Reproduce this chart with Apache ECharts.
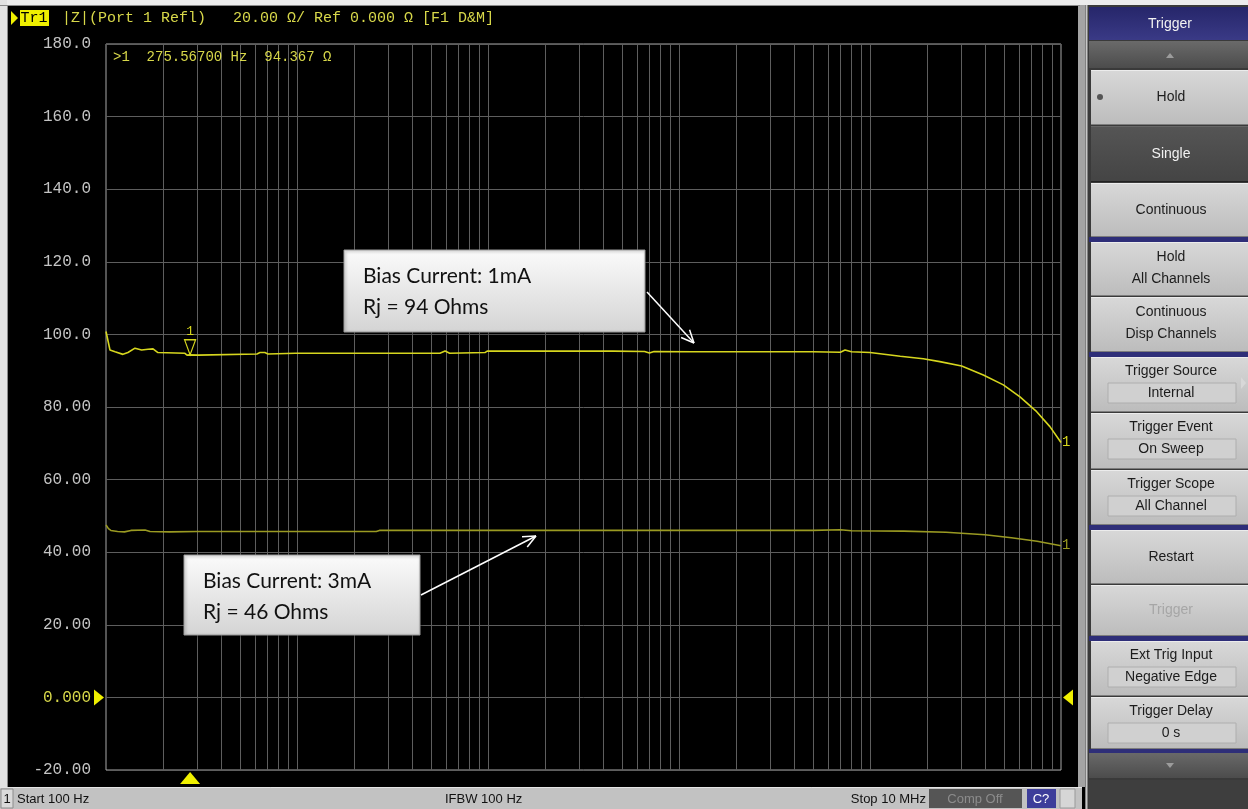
<!DOCTYPE html>
<html>
<head>
<meta charset="utf-8">
<script src="https://cdn.jsdelivr.net/npm/echarts/dist/echarts.min.js"></script>
<style>
html,body{margin:0;padding:0;background:#000;overflow:hidden}
#c{width:1248px;height:809px}
</style>
</head>
<body>
<div id="c"></div>
<script>
// |Z| sweep, 1 mA bias (frequency in Hz, impedance in ohms)
const freq1mA = [100, 104.9, 111.5, 122.7, 130.3, 141.8, 153.7, 165.9, 176.3, 187, 259, 265.5, 275.567, 303, 310, 617, 640, 679, 704, 980, 5600, 5960, 6300, 9640, 9900, 45000, 66000, 70000, 74000, 118000, 500000, 700000, 740000, 800000, 1000000, 1440000, 1900000, 2320000, 3020000, 3920000, 4990000, 6100000, 7460000, 8750000, 10000000];
const z1mA = [100.8, 95.7, 95.2, 94.5, 95.0, 96.2, 95.7, 95.9, 96.0, 95.0, 94.8, 94.3, 94.37, 94.3, 94.6, 94.6, 95.0, 95.0, 94.6, 94.8, 94.8, 95.4, 94.8, 95.0, 95.4, 95.4, 95.3, 94.9, 95.3, 95.2, 95.2, 95.1, 95.7, 95.2, 95.0, 94.0, 93.3, 92.5, 91.3, 88.8, 86.1, 82.8, 78.7, 74.6, 70.2];

// |Z| sweep, 3 mA bias
const freq3mA = [100, 103, 106, 115, 125, 135, 160, 170, 215, 300, 1000, 2600, 2700, 10000, 100000, 500000, 700000, 800000, 1500000, 2500000, 4000000, 5500000, 7500000, 10000000];
const z3mA = [47.5, 46.5, 46.0, 45.7, 45.6, 46.0, 46.1, 45.7, 45.6, 45.7, 45.7, 45.7, 46.0, 46.0, 46.0, 46.0, 46.2, 45.9, 45.8, 45.5, 44.8, 44.0, 43.0, 41.8];

// marker 1
const markerFreq = 275.567;
const markerZ = 94.367;

// sweep / scale settings
const startFreq = 100;
const stopFreq = 10000000;
const yMin = -20, yMax = 180, yStep = 20;
const refLevel = 0;

// annotations
const note1mA = ['Bias Current: 1mA', 'Rj = 94 Ohms'];
const note3mA = ['Bias Current: 3mA', 'Rj = 46 Ohms'];

// log grid: 1..9 per decade inside the sweep span
const gridFreqs = [];
for (let d = startFreq; d < stopFreq; d *= 10) {
  for (let m = 1; m <= 9; m++) {
    const f = d * m;
    if (f > startFreq && f < stopFreq) gridFreqs.push(f);
  }
}

const TRACE1 = '#d6d61e';
const TRACE2 = '#9a9a22';
const TXT_Y = '#d8d84a';
const MONO = '"Liberation Mono", "DejaVu Sans Mono", monospace';
const UI = '"Liberation Sans", Arial, sans-serif';
const CAL = 'Lato, "Open Sans", sans-serif';

const zip = (a, b) => a.map((v, i) => [v, b[i]]);

function fmtY(v) {
  if (v === 0) return '0.000';
  return Math.abs(v) >= 100 ? v.toFixed(1) : v.toFixed(2);
}

const chart = echarts.init(document.getElementById('c'), null, {renderer: 'canvas'});

const option = {
  backgroundColor: '#000',
  animation: false,
  grid: {left: 106, top: 44, width: 955, height: 726, show: true, borderColor: '#a8a8a8', borderWidth: 1, backgroundColor: 'transparent'},
  xAxis: {
    type: 'log', logBase: 10, min: startFreq, max: stopFreq,
    axisLine: {show: false}, axisTick: {show: false}, axisLabel: {show: false}, splitLine: {show: false}
  },
  yAxis: {
    type: 'value', min: yMin, max: yMax, interval: yStep,
    axisLine: {show: false}, axisTick: {show: false},
    axisLabel: {
      formatter: fmtY, margin: 15, fontFamily: MONO, fontSize: 16,
      color: (v) => (Number(v) === refLevel ? TXT_Y : '#c4c4c4')
    },
    splitLine: {lineStyle: {color: '#5e5e5e', width: 1}}
  },
  series: [
    {
      type: 'custom', z: 1, silent: true,
      data: gridFreqs.map(f => [f]),
      renderItem: (params, api) => {
        const p1 = api.coord([api.value(0), yMax]);
        const p2 = api.coord([api.value(0), yMin]);
        return {type: 'line', shape: {x1: Math.round(p1[0]) + 0.5, y1: p1[1], x2: Math.round(p2[0]) + 0.5, y2: p2[1]},
                style: {stroke: '#5e5e5e', lineWidth: 1}};
      }
    },
    {
      name: '3mA', type: 'line', z: 3, data: zip(freq3mA, z3mA), showSymbol: false, silent: true,
      lineStyle: {color: TRACE2, width: 1.6},
      endLabel: {show: true, formatter: '1', color: TRACE2, fontFamily: MONO, fontSize: 14, distance: 1}
    },
    {
      name: '1mA', type: 'line', z: 4, data: zip(freq1mA, z1mA), showSymbol: false, silent: true,
      lineStyle: {color: TRACE1, width: 1.6},
      endLabel: {show: true, formatter: '1', color: TRACE1, fontFamily: MONO, fontSize: 14, distance: 1},
      markPoint: {
        silent: true,
        symbol: 'path://M0,0 L12,0 L6,15 Z',
        symbolSize: [11, 15],
        symbolOffset: [0, '-50%'],
        itemStyle: {color: 'rgba(0,0,0,0)', borderColor: TRACE1, borderWidth: 1.3},
        label: {show: true, position: 'top', distance: 1, formatter: '1', color: TRACE1, fontFamily: MONO, fontSize: 13},
        data: [{coord: [markerFreq, markerZ]}]
      }
    }
  ]
};
chart.setOption(option);

// ---- screen furniture ----
const g = [];
function rect(x, y, w, h, fill, stroke, z) {
  g.push({type: 'rect', shape: {x, y, width: w, height: h}, style: {fill, stroke: stroke || null, lineWidth: 1}, z: z || 10, silent: true});
}
function text(x, y, s, font, fill, align, z) {
  g.push({type: 'text', x: 0, y: 0, z: z || 12, silent: true,
    style: {x, y, text: s, font, fill, align: align || 'left', textAlign: align || 'left', verticalAlign: 'middle', textVerticalAlign: 'middle'}});
}
function poly(points, fill, z) {
  g.push({type: 'polygon', shape: {points}, style: {fill}, z: z || 12, silent: true});
}
function line(x1, y1, x2, y2, stroke, w, z) {
  g.push({type: 'line', shape: {x1, y1, x2, y2}, style: {stroke, lineWidth: w || 1}, z: z || 12, silent: true});
}
const vgrad = (a, b) => ({type: 'linear', x: 0, y: 0, x2: 0, y2: 1, colorStops: [{offset: 0, color: a}, {offset: 1, color: b}]});

// outer frame strips
rect(0, 0, 1248, 5, '#ececec');
line(0, 5.5, 1080, 5.5, '#8a8a8a');
rect(0, 0, 7, 787, '#e2e2e2');
line(7.5, 5, 7.5, 787, '#8a8a8a');
rect(1078, 5, 7, 782, '#a4a4a4');

// header
poly([[11, 11], [18, 18], [11, 25]], '#f0f000');
rect(20, 10, 29, 16, '#f0f000');
text(34, 18, 'Tr1', '15px ' + MONO, '#000', 'center');
text(62, 18, '|Z|(Port 1 Refl)   20.00 \u03a9/ Ref 0.000 \u03a9 [F1 D&M]', '15px ' + MONO, TXT_Y);

// marker readout
text(113, 57, '>1  275.56700 Hz  94.367 \u03a9', '14px ' + MONO, TXT_Y);

// status bar
rect(0, 787, 1082, 22, '#c2c2c2');
line(0, 787.5, 1082, 787.5, '#e4e4e4');
rect(1, 789, 12, 19, '#dadada', '#8c8c8c');
text(7, 799, '1', '13px ' + UI, '#111', 'center');
text(17, 799, 'Start 100 Hz', '13px ' + UI, '#111');
text(445, 799, 'IFBW 100 Hz', '13px ' + UI, '#111');
text(926, 799, 'Stop 10 MHz', '13px ' + UI, '#111', 'right');
rect(929, 789, 93, 19, '#555555');
text(975, 799, 'Comp Off', '13px ' + UI, '#8c8c8c', 'center');
rect(1027, 789, 29, 19, '#3d3d9a');
text(1041, 799, 'C?', '13px ' + UI, '#fff', 'center');
rect(1060, 789, 15, 19, '#d6d6d6', '#9a9a9a');

// soft-key panel
rect(1085, 5, 163, 804, '#3a3a3a', null, 9);
line(1086.5, 5, 1086.5, 809, '#c8c8c8', 2);
rect(1089, 7, 159, 33, vgrad('#26266a', '#3a3a86'));
text(1170, 24, 'Trigger', '14px ' + UI, '#f2f2f2', 'center');
rect(1089, 41, 159, 27, vgrad('#6a6a6a', '#4c4c4c'));
poly([[1166, 58], [1170, 53], [1174, 58]], '#9c9c9c');
rect(1089, 752, 159, 26, vgrad('#6a6a6a', '#4c4c4c'));
poly([[1166, 763], [1170, 768], [1174, 763]], '#9c9c9c');
rect(1089, 780, 159, 29, '#3e3e3e');

// navy separators
[[237, 5], [352, 5], [525, 5], [636, 5], [749, 4]].forEach(([y, h]) => rect(1089, y, 159, h, '#2e2e78'));

function button(y, h, lines, dark, dim) {
  rect(1091, y, 157, h, dark ? vgrad('#555555', '#444444') : vgrad('#d8d8d8', '#bcbcbc'));
  line(1091, y + h - 0.5, 1248, y + h - 0.5, dark ? '#222' : '#7c7c7c');
  line(1091, y + 0.5, 1248, y + 0.5, dark ? '#666' : '#ececec');
  const col = dark ? '#f2f2f2' : (dim ? '#a6a6a6' : '#1c1c1c');
  if (lines.length === 1) {
    text(1171, y + h / 2, lines[0], '14px ' + UI, col, 'center');
  } else {
    text(1171, y + 15, lines[0], '14px ' + UI, col, 'center');
    text(1171, y + 37, lines[1], '14px ' + UI, col, 'center');
  }
}
function fieldButton(y, h, label, value) {
  rect(1091, y, 157, h, vgrad('#d8d8d8', '#bcbcbc'));
  line(1091, y + h - 0.5, 1248, y + h - 0.5, '#7c7c7c');
  line(1091, y + 0.5, 1248, y + 0.5, '#ececec');
  text(1171, y + 14, label, '14px ' + UI, '#1c1c1c', 'center');
  rect(1108, y + 26, 128, 20, '#d0d0d0', '#aeaeae');
  text(1171, y + 36, value, '14px ' + UI, '#1c1c1c', 'center');
}

button(70, 55, ['Hold']);
g.push({type: 'circle', shape: {cx: 1100, cy: 97, r: 3}, style: {fill: '#555'}, z: 13, silent: true});
button(126, 56, ['Single'], true);
button(183, 54, ['Continuous']);
button(242, 54, ['Hold', 'All Channels']);
button(297, 55, ['Continuous', 'Disp Channels']);
fieldButton(357, 55, 'Trigger Source', 'Internal');
poly([[1241, 377], [1246, 383], [1241, 389]], '#d8d8d8', 13);
fieldButton(413, 56, 'Trigger Event', 'On Sweep');
fieldButton(470, 55, 'Trigger Scope', 'All Channel');
button(530, 54, ['Restart']);
button(585, 51, ['Trigger'], false, true);
fieldButton(641, 55, 'Ext Trig Input', 'Negative Edge');
fieldButton(697, 52, 'Trigger Delay', '0 s');

// reference-level and stimulus markers, placed through the axes
const pRef = chart.convertToPixel({gridIndex: 0}, [startFreq, refLevel]);
const yr = pRef[1];
poly([[94, yr - 8], [104, yr], [94, yr + 8]], '#f0f000');
poly([[1073, yr - 8], [1063, yr], [1073, yr + 8]], '#f0f000');
const pMk = chart.convertToPixel({gridIndex: 0}, [markerFreq, yMin]);
poly([[pMk[0] - 10, 784], [pMk[0], 772], [pMk[0] + 10, 784]], '#f0f000');

// annotation callouts
function callout(x, y, w, h, lines) {
  g.push({type: 'rect', shape: {x, y, width: w, height: h},
    style: {fill: vgrad('#fbfbfb', '#d4d4d4'), stroke: '#9a9a9a', lineWidth: 1,
      shadowBlur: 3, shadowOffsetX: 1, shadowOffsetY: 1, shadowColor: 'rgba(0,0,0,0.4)'}, z: 20, silent: true});
  text(x + 19, y + 26, lines[0], '21px ' + CAL, '#111', 'left', 21);
  text(x + 19, y + 57, lines[1], '21px ' + CAL, '#111', 'left', 21);
}
function arrow(x1, y1, x2, y2) {
  line(x1, y1, x2, y2, '#ffffff', 1.5, 20);
  const a = Math.atan2(y2 - y1, x2 - x1), L = 14, s = 0.42;
  line(x2, y2, x2 - L * Math.cos(a - s), y2 - L * Math.sin(a - s), '#ffffff', 1.5, 20);
  line(x2, y2, x2 - L * Math.cos(a + s), y2 - L * Math.sin(a + s), '#ffffff', 1.5, 20);
}
callout(344, 250, 301, 82, note1mA);
arrow(647, 292, 694, 343);
callout(184, 555, 236, 80, note3mA);
arrow(421, 595, 536, 536);

chart.setOption({graphic: {elements: g}});
</script>
</body>
</html>
